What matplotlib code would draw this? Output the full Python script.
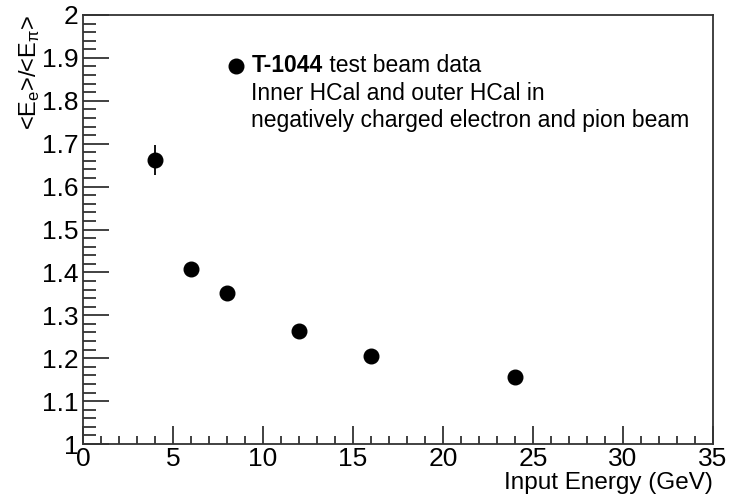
import numpy as np
import matplotlib
matplotlib.use('Agg')
import matplotlib.pyplot as plt
from matplotlib.ticker import MultipleLocator

plt.rcParams['font.family'] = ['Liberation Sans', 'DejaVu Sans']
plt.rcParams['mathtext.fontset'] = 'custom'
plt.rcParams['mathtext.rm'] = 'Liberation Sans'
plt.rcParams['mathtext.it'] = 'Liberation Sans'

# beam energy (GeV) and e/pi ratio
energy = [4, 6, 8, 12, 16, 24]
ratio = [1.663, 1.407, 1.351, 1.264, 1.206, 1.156]
ratio_err = [0.035, 0.006, 0.006, 0.005, 0.005, 0.005]

fig = plt.figure(figsize=(7.3, 4.99), dpi=100)
ax = fig.add_axes([83/730, 1 - 444/499, (713-83)/730, (444-15)/499])

ax.errorbar(energy, ratio, yerr=ratio_err, fmt='o', color='black',
            ms=10.5, elinewidth=1.3, capsize=0)

ax.set_xlim(0, 35)
ax.set_ylim(1, 2)
ax.xaxis.set_major_locator(MultipleLocator(5))
ax.xaxis.set_minor_locator(MultipleLocator(1))
ax.yaxis.set_major_locator(MultipleLocator(0.1))
ax.yaxis.set_minor_locator(MultipleLocator(0.02))
ax.set_xticklabels(['{:g}'.format(v) for v in ax.get_xticks()])
ax.set_yticklabels(['{:g}'.format(round(v, 2)) for v in ax.get_yticks()])

ax.tick_params(axis='both', which='both', direction='in', labelsize=19, width=1.3, color='#333333')
ax.tick_params(axis='y', which='major', length=19, pad=3)
ax.tick_params(axis='y', which='minor', length=9)
ax.tick_params(axis='x', which='major', length=13, pad=2)
ax.tick_params(axis='x', which='minor', length=6)
for s in ax.spines.values():
    s.set_linewidth(1.3)
    s.set_color('#333333')

ax.set_xlabel('Input Energy (GeV)', fontsize=17.5)
ax.xaxis.set_label_coords(1.0, -0.066)
ax.xaxis.label.set_horizontalalignment('right')
ax.set_ylabel(r'<E$_{e}$>/<E$_{\pi}$>', fontsize=17)
ax.yaxis.set_label_coords(-0.085, 1.0)
ax.yaxis.label.set_verticalalignment('center')
ax.yaxis.label.set_horizontalalignment('right')

# legend-like text block
ax.plot([8.5], [1.882], 'o', color='black', ms=10.5, clip_on=False)
t1 = ax.text(9.35, 1.882, 'T-1044', fontsize=16.5, fontweight='bold', va='center')
ax.annotate(' test beam data', xy=(1, 0.5), xycoords=t1, va='center', fontsize=16.5)
ax.text(9.35, 1.818, 'Inner HCal and outer HCal in', fontsize=16.5, va='center')
ax.text(9.35, 1.753, 'negatively charged electron and pion beam', fontsize=16.5, va='center')

fig.savefig('out.png', dpi=100)
